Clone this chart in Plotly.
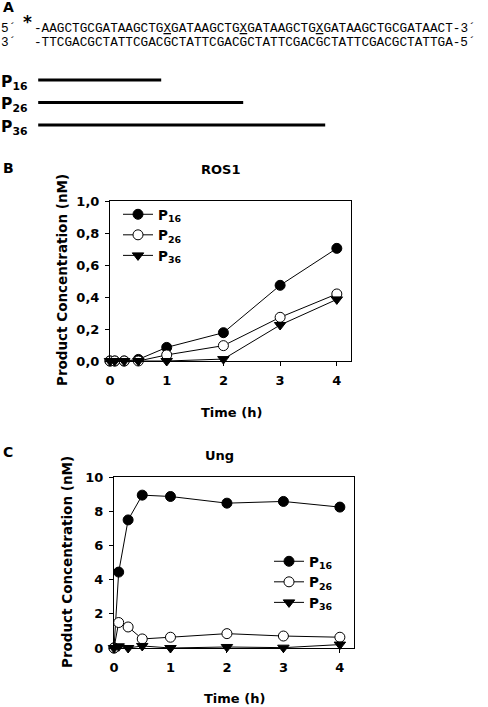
import plotly.graph_objects as go

W, H = 488, 707

# ---------------- data ----------------
time_h = [0, 0.083, 0.25, 0.5, 1, 2, 3, 4]
ros1_p16 = [0, 0, 0, 0.01, 0.085, 0.177, 0.473, 0.704]
ros1_p26 = [0, 0, 0, 0, 0.038, 0.096, 0.273, 0.419]
ros1_p36 = [0, 0, 0, 0, 0.0, 0.012, 0.225, 0.385]
ung_p16 = [0, 4.44, 7.49, 8.94, 8.86, 8.47, 8.57, 8.24]
ung_p26 = [0, 1.49, 1.23, 0.53, 0.63, 0.84, 0.70, 0.63]
ung_p36 = [0, 0.10, 0.0, 0.12, 0.0, 0.06, 0.02, 0.20]

product_names = ["P16", "P26", "P36"]
product_labels = ["P<sub>16</sub>", "P<sub>26</sub>", "P<sub>36</sub>"]
product_start_nt = [1, 1, 1]
product_end_nt = [16, 26, 36]

xticks = [0, 1, 2, 3, 4]
ros1_yticks = [0, 0.2, 0.4, 0.6, 0.8, 1.0]
ung_yticks = [0, 2, 4, 6, 8, 10]

seq_top = "-AAGCTGCGATAAGCTG<u>X</u>GATAAGCTG<u>X</u>GATAAGCTG<u>X</u>GATAAGCTGCGATAACT-3\u00b4"
seq_bot = "-TTCGACGCTATTCGACGCTATTCGACGCTATTCGACGCTATTCGACGCTATTGA-5\u00b4"

# ---------------- helpers ----------------
def px(x):
    return x / W

def py(y):
    return 1 - y / H

FONT = "DejaVu Sans"
BLACK = "black"

styles = [
    dict(symbol="circle", size=10, color=BLACK, line=dict(color=BLACK, width=1)),
    dict(symbol="circle", size=10, color="white", line=dict(color=BLACK, width=1)),
    dict(symbol="triangle-down", size=10, color=BLACK, line=dict(color=BLACK, width=1)),
]

fig = go.Figure()

# Panel B: ROS1
for vals, lab, st in zip([ros1_p16, ros1_p26, ros1_p36], product_labels, styles):
    fig.add_trace(go.Scatter(
        x=time_h, y=vals, name=lab, mode="lines+markers",
        line=dict(color=BLACK, width=1), marker=st,
        xaxis="x", yaxis="y", legend="legend", cliponaxis=False))

# Panel C: Ung
for vals, lab, st in zip([ung_p16, ung_p26, ung_p36], product_labels, styles):
    fig.add_trace(go.Scatter(
        x=time_h, y=vals, name=lab, mode="lines+markers",
        line=dict(color=BLACK, width=1), marker=st,
        xaxis="x2", yaxis="y2", legend="legend2", cliponaxis=False))

# Panel A: product bars
for name, s, e in zip(product_names, product_start_nt, product_end_nt):
    fig.add_trace(go.Scatter(
        x=[s, e], y=[name, name], mode="lines",
        line=dict(color=BLACK, width=3), showlegend=False,
        xaxis="x3", yaxis="y3", hoverinfo="skip"))

axis_common = dict(
    showline=True, linecolor=BLACK, linewidth=1, mirror=True,
    ticks="outside", ticklen=4, tickwidth=1, tickcolor=BLACK,
    showgrid=False, zeroline=False, automargin=False,
    tickfont=dict(family=FONT, size=13, color=BLACK, weight="bold"),
)

fig.update_layout(
    width=W, height=H,
    margin=dict(l=0, r=0, t=0, b=0, autoexpand=False),
    paper_bgcolor="white", plot_bgcolor="white",
    separators=",.",
    font=dict(family=FONT, size=13, color=BLACK, weight="bold"),
    xaxis=dict(domain=[px(110), px(351)], range=[0, 4.25], anchor="y",
               tickvals=xticks, ticklabelstandoff=3, **axis_common),
    yaxis=dict(domain=[py(361), py(201)], range=[0, 1.0], anchor="x",
               tickvals=ros1_yticks, tickformat=".1f", ticklabelstandoff=3, **axis_common),
    xaxis2=dict(domain=[px(114), px(354)], range=[0, 4.25], anchor="y2",
                tickvals=xticks, ticklabelstandoff=3, **axis_common),
    yaxis2=dict(domain=[py(648), py(477)], range=[0, 10], anchor="x2",
                tickvals=ung_yticks, ticklabelstandoff=3, **axis_common),
    xaxis3=dict(domain=[0, 1], range=[-30 / 8.2, (W - 30) / 8.2], anchor="y3",
                visible=False, automargin=False),
    yaxis3=dict(domain=[py(135), py(70)], range=[2.444, -0.444], anchor="x3",
                type="category", categoryarray=product_names, visible=False,
                automargin=False),
    legend=dict(x=px(118), y=py(199), xanchor="left", yanchor="top",
                bgcolor="rgba(0,0,0,0)", tracegroupgap=0,
                font=dict(family=FONT, size=13.5, color=BLACK, weight="bold")),
    legend2=dict(x=px(269), y=py(546), xanchor="left", yanchor="top",
                 bgcolor="rgba(0,0,0,0)", tracegroupgap=0,
                 font=dict(family=FONT, size=13.5, color=BLACK, weight="bold")),
    showlegend=True,
)

ann = []
def add(text, x, y, xanchor="center", yanchor="middle", size=13, family=FONT,
        weight="bold", angle=0, xref="paper", yref="paper", yshift=0):
    ann.append(dict(text=text, x=x, y=y, xref=xref, yref=yref, xanchor=xanchor,
                    yanchor=yanchor, showarrow=False, textangle=angle, yshift=yshift,
                    font=dict(family=family, size=size, color=BLACK, weight=weight)))

# panel letters
add("A", px(1), py(7), xanchor="left", size=14)
add("B", px(1), py(168), xanchor="left", size=14)
add("C", px(1), py(452), xanchor="left", size=14)

# sequences
MONO = "Liberation Mono"
SEQ_SIZE = 12.7
add("5\u00b4", px(-1), py(28), xanchor="left", family=MONO, weight="normal", size=SEQ_SIZE)
add("3\u00b4", px(-1), py(43), xanchor="left", family=MONO, weight="normal", size=SEQ_SIZE)
add("*", px(21), py(22), xanchor="left", family=FONT, size=17, weight="bold")
add(seq_top, px(32), py(28), xanchor="left", family=MONO, weight="normal", size=SEQ_SIZE)
add(seq_bot, px(32), py(43), xanchor="left", family=MONO, weight="normal", size=SEQ_SIZE)

# product labels
for name, lab in zip(product_names, product_labels):
    add(lab, px(-1), name, xanchor="left", yref="y3", yshift=-3, size=15.5)

# titles
add("ROS1", px(220), py(169))
add("Ung", px(219), py(455))
add("Time (h)", px(231), py(412))
add("Time (h)", px(234), py(698))
add("Product Concentration (nM)", px(62), py(280), angle=-90, size=13.5)
add("Product Concentration (nM)", px(67), py(562), angle=-90, size=13.5)

fig.update_layout(annotations=ann)

fig.write_html("out.html",
               config={"displayModeBar": False},
               post_script="document.body.style.margin='0';document.body.style.padding='0';")
